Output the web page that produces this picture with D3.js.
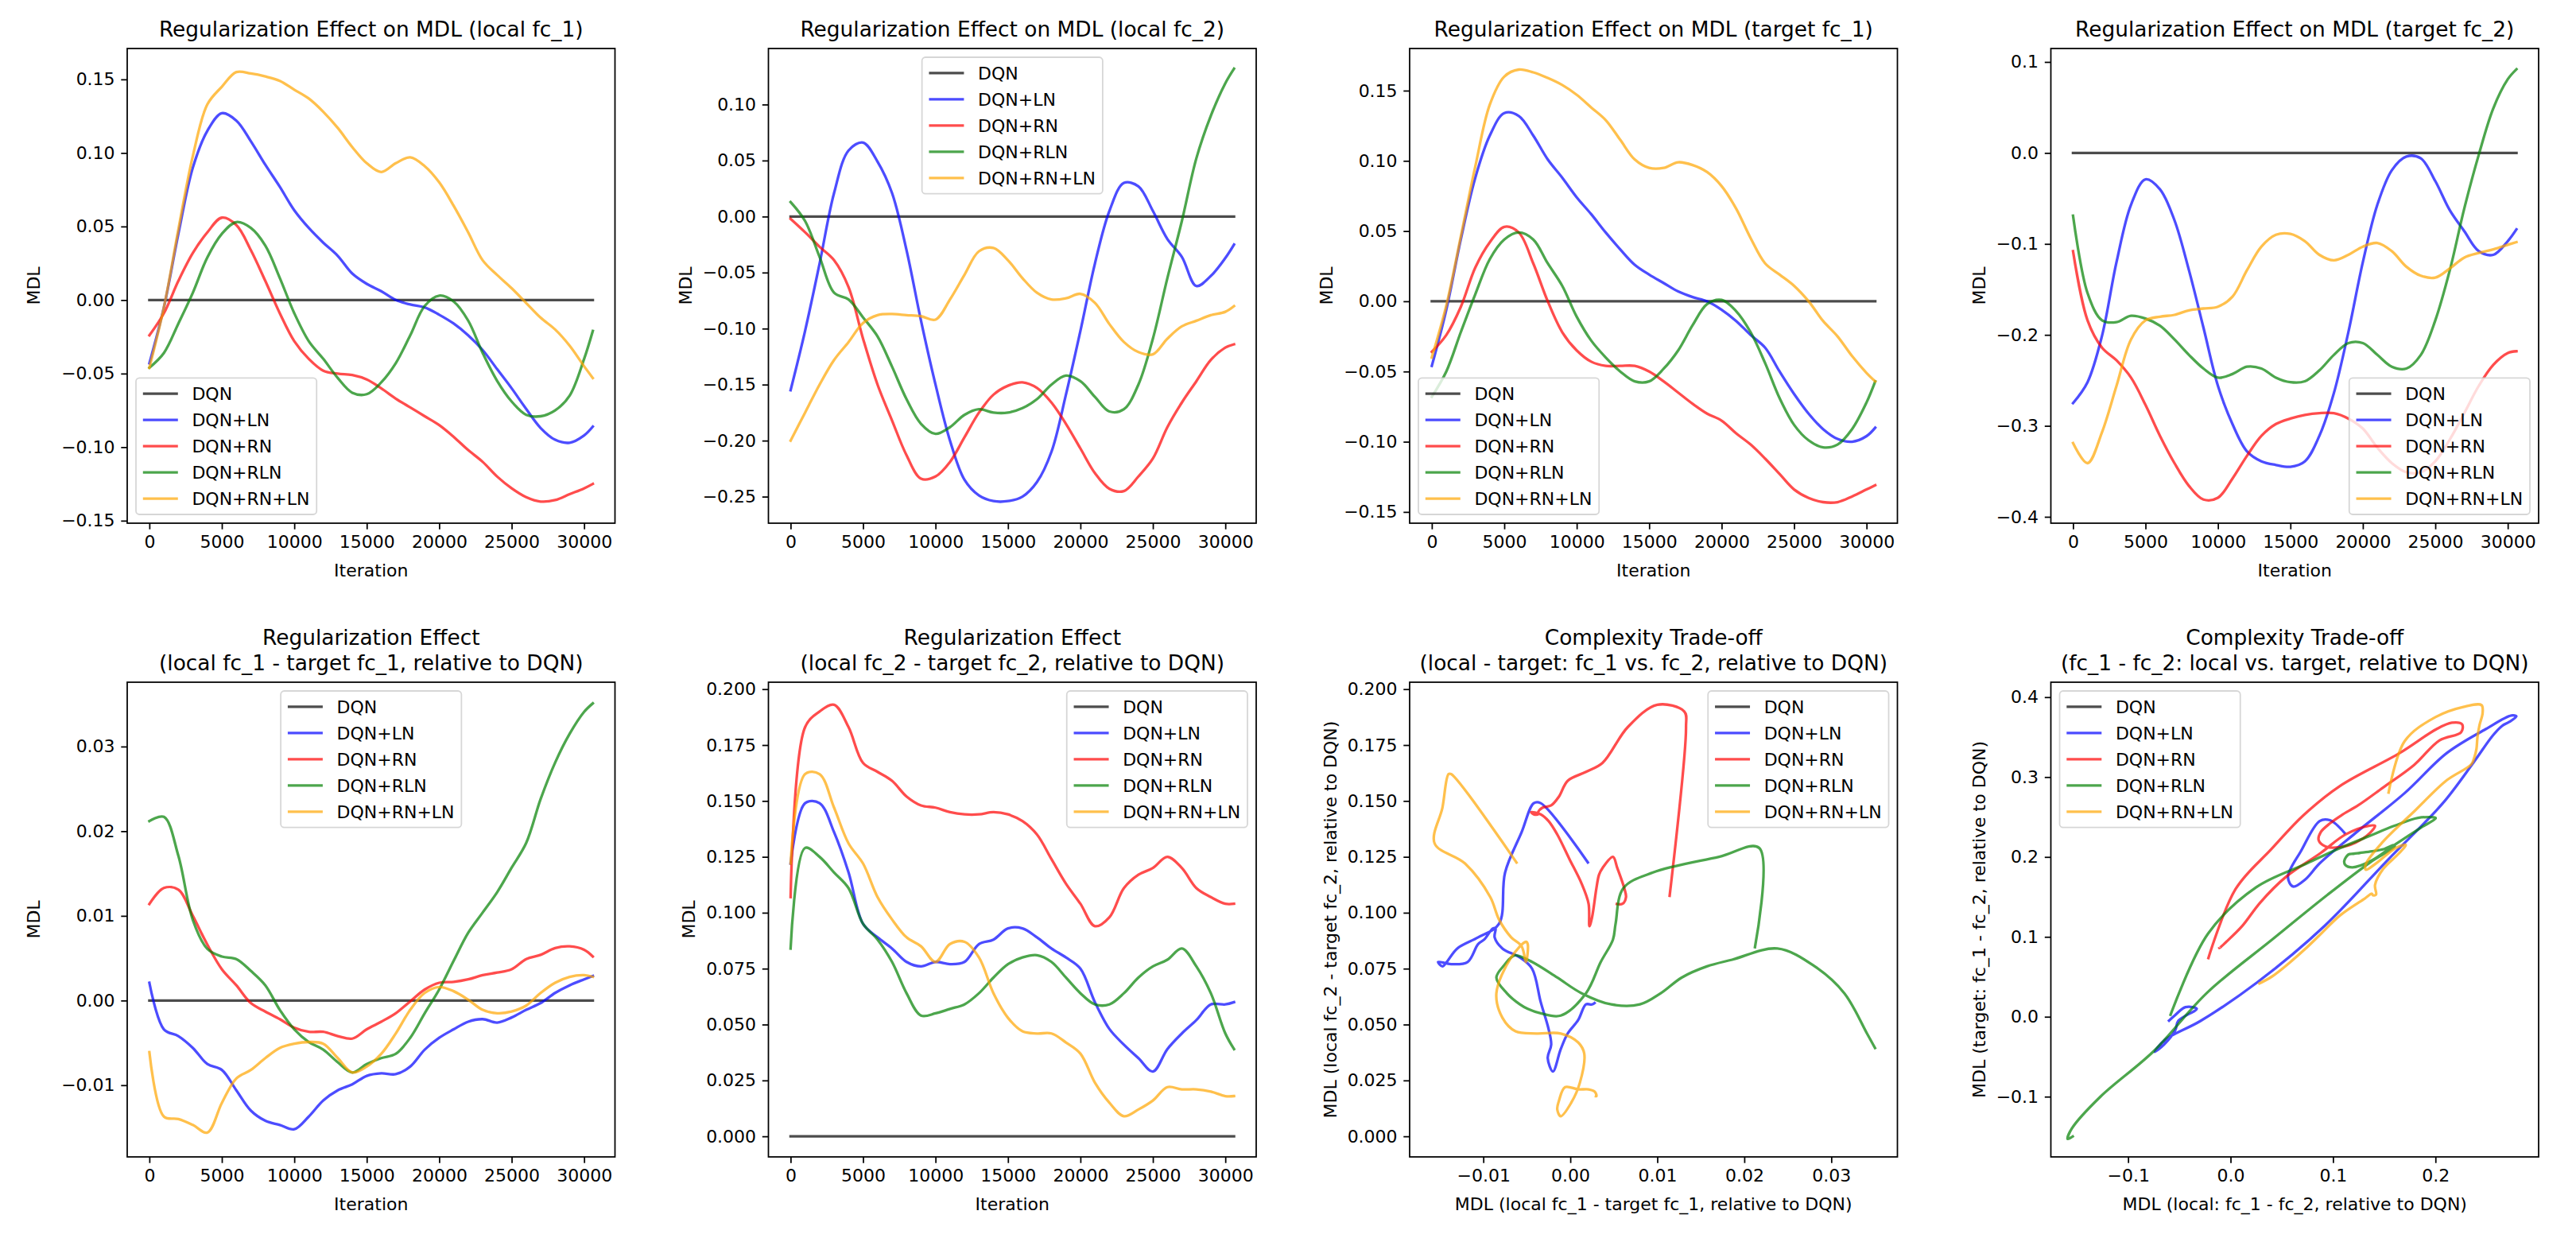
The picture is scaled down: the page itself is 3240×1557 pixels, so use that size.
<!DOCTYPE html>
<html><head><meta charset="utf-8">
<script src="https://cdn.jsdelivr.net/npm/d3@7"></script>
<style>
body{margin:0;background:#fff}
svg text{font-family:"DejaVu Sans",sans-serif;fill:#000}
</style>
</head><body>
<svg id="fig" width="3240" height="1557"></svg>
<script>
// ---------------- DATA ----------------
const iterations = [0,1000,2000,3000,4000,5000,6000,7000,8000,9000,10000,11000,12000,13000,14000,15000,16000,17000,18000,19000,20000,21000,22000,23000,24000,25000,26000,27000,28000,29000,30000,30600];
const seriesNames = ["DQN","DQN+LN","DQN+RN","DQN+RLN","DQN+RN+LN"];
const seriesColors = ["#000000","#0000ff","#ff0000","#008000","#ffa500"];
const dqnBaseline = [0,0,0,0,0,0,0,0,0,0,0,0,0,0,0,0,0,0,0,0,0,0,0,0,0,0,0,0,0,0,0,0];

// local fc_1
const localFc1LN   = [-0.043,-0.005,0.045,0.090,0.115,0.127,0.122,0.108,0.092,0.077,0.061,0.049,0.039,0.030,0.018,0.011,0.006,0.000,-0.003,-0.005,-0.010,-0.016,-0.024,-0.034,-0.047,-0.060,-0.074,-0.087,-0.095,-0.097,-0.092,-0.086];
const localFc1RN   = [-0.024,-0.009,0.013,0.032,0.046,0.056,0.051,0.034,0.013,-0.009,-0.028,-0.040,-0.048,-0.050,-0.051,-0.054,-0.060,-0.067,-0.073,-0.079,-0.085,-0.093,-0.102,-0.110,-0.120,-0.128,-0.134,-0.137,-0.136,-0.132,-0.128,-0.125];
const localFc1RLN  = [-0.046,-0.036,-0.016,0.005,0.029,0.045,0.053,0.049,0.037,0.015,-0.009,-0.028,-0.040,-0.053,-0.063,-0.064,-0.056,-0.043,-0.024,-0.004,0.003,-0.001,-0.014,-0.036,-0.055,-0.069,-0.078,-0.079,-0.075,-0.065,-0.040,-0.021];
const localFc1RNLN = [-0.046,-0.005,0.048,0.098,0.133,0.145,0.155,0.154,0.152,0.149,0.143,0.137,0.128,0.117,0.104,0.093,0.087,0.093,0.097,0.091,0.080,0.064,0.046,0.027,0.017,0.008,-0.002,-0.012,-0.020,-0.031,-0.045,-0.053];

// local fc_2
const localFc2LN   = [-0.155,-0.102,-0.042,0.021,0.059,0.066,0.049,0.021,-0.030,-0.093,-0.150,-0.200,-0.235,-0.249,-0.254,-0.254,-0.250,-0.237,-0.210,-0.159,-0.102,-0.042,0.005,0.030,0.027,0.005,-0.020,-0.036,-0.062,-0.053,-0.037,-0.025];
const localFc2RN   = [-0.002,-0.014,-0.027,-0.039,-0.063,-0.109,-0.150,-0.182,-0.213,-0.234,-0.232,-0.219,-0.197,-0.175,-0.159,-0.151,-0.148,-0.153,-0.166,-0.185,-0.207,-0.229,-0.243,-0.245,-0.232,-0.216,-0.188,-0.166,-0.147,-0.128,-0.117,-0.114];
const localFc2RLN  = [0.013,-0.004,-0.036,-0.068,-0.074,-0.090,-0.107,-0.134,-0.163,-0.185,-0.194,-0.188,-0.177,-0.172,-0.175,-0.175,-0.171,-0.163,-0.150,-0.142,-0.147,-0.161,-0.174,-0.172,-0.150,-0.109,-0.055,-0.004,0.052,0.090,0.119,0.132];
const localFc2RNLN = [-0.200,-0.175,-0.150,-0.128,-0.112,-0.095,-0.088,-0.087,-0.088,-0.089,-0.092,-0.074,-0.052,-0.031,-0.028,-0.039,-0.055,-0.068,-0.074,-0.073,-0.069,-0.077,-0.096,-0.112,-0.121,-0.123,-0.109,-0.098,-0.093,-0.088,-0.085,-0.080];

// target fc_1
const targetFc1LN   = [-0.046,-0.006,0.044,0.088,0.118,0.134,0.132,0.118,0.101,0.088,0.074,0.062,0.049,0.037,0.026,0.019,0.013,0.007,0.003,0.000,-0.006,-0.014,-0.024,-0.033,-0.050,-0.066,-0.080,-0.091,-0.098,-0.100,-0.096,-0.090];
const targetFc1RN   = [-0.036,-0.024,-0.004,0.024,0.042,0.053,0.049,0.027,0.000,-0.022,-0.035,-0.043,-0.046,-0.046,-0.046,-0.050,-0.057,-0.065,-0.073,-0.080,-0.085,-0.094,-0.102,-0.112,-0.123,-0.134,-0.140,-0.143,-0.143,-0.139,-0.134,-0.131];
const targetFc1RLN  = [-0.068,-0.050,-0.022,0.005,0.030,0.044,0.049,0.044,0.027,0.011,-0.011,-0.028,-0.040,-0.050,-0.057,-0.057,-0.048,-0.035,-0.017,-0.002,0.001,-0.007,-0.022,-0.044,-0.069,-0.088,-0.099,-0.104,-0.102,-0.091,-0.072,-0.057];
const targetFc1RNLN = [-0.040,-0.003,0.046,0.096,0.140,0.160,0.165,0.163,0.159,0.154,0.147,0.138,0.129,0.115,0.101,0.095,0.095,0.099,0.097,0.092,0.082,0.066,0.045,0.027,0.019,0.011,0.000,-0.014,-0.025,-0.039,-0.051,-0.057];

// target fc_2
const targetFc2LN   = [-0.275,-0.252,-0.201,-0.120,-0.057,-0.029,-0.040,-0.074,-0.129,-0.192,-0.256,-0.298,-0.328,-0.339,-0.343,-0.345,-0.339,-0.311,-0.264,-0.197,-0.120,-0.057,-0.019,-0.004,-0.006,-0.031,-0.063,-0.086,-0.108,-0.112,-0.097,-0.084];
const targetFc2RN   = [-0.108,-0.184,-0.214,-0.228,-0.247,-0.277,-0.311,-0.341,-0.366,-0.381,-0.379,-0.358,-0.333,-0.311,-0.298,-0.292,-0.288,-0.286,-0.286,-0.292,-0.303,-0.324,-0.341,-0.351,-0.351,-0.339,-0.315,-0.286,-0.256,-0.233,-0.220,-0.218];
const targetFc2RLN  = [-0.069,-0.154,-0.184,-0.186,-0.179,-0.182,-0.190,-0.205,-0.222,-0.237,-0.247,-0.243,-0.235,-0.237,-0.247,-0.252,-0.251,-0.239,-0.222,-0.209,-0.209,-0.222,-0.235,-0.237,-0.222,-0.184,-0.129,-0.061,-0.002,0.049,0.081,0.092];
const targetFc2RNLN = [-0.319,-0.341,-0.307,-0.256,-0.205,-0.184,-0.180,-0.178,-0.173,-0.171,-0.169,-0.158,-0.129,-0.103,-0.090,-0.089,-0.097,-0.112,-0.118,-0.112,-0.103,-0.099,-0.108,-0.125,-0.135,-0.137,-0.127,-0.115,-0.110,-0.106,-0.101,-0.098];

// local fc_1 - target fc_1, relative to DQN
const diffFc1LN   = [0.0021,-0.0034,-0.0042,-0.0056,-0.0075,-0.0082,-0.0106,-0.0130,-0.0142,-0.0147,-0.0152,-0.0137,-0.0118,-0.0106,-0.0099,-0.0089,-0.0086,-0.0087,-0.0078,-0.0058,-0.0044,-0.0034,-0.0025,-0.0022,-0.0026,-0.0020,-0.0011,-0.0003,0.0009,0.0018,0.0025,0.0029];
const diffFc1RN   = [0.0114,0.0133,0.0131,0.0100,0.0066,0.0037,0.0018,-0.0003,-0.0013,-0.0022,-0.0032,-0.0037,-0.0037,-0.0042,-0.0045,-0.0034,-0.0025,-0.0015,-0.0001,0.0013,0.0021,0.0022,0.0025,0.0030,0.0033,0.0037,0.0049,0.0054,0.0062,0.0064,0.0060,0.0052];
const diffFc1RLN  = [0.0212,0.0217,0.0171,0.0095,0.0061,0.0052,0.0049,0.0035,0.0018,-0.0011,-0.0034,-0.0049,-0.0058,-0.0073,-0.0085,-0.0075,-0.0068,-0.0063,-0.0044,-0.0015,0.0013,0.0047,0.0080,0.0104,0.0128,0.0157,0.0186,0.0238,0.0281,0.0315,0.0341,0.0351];
const diffFc1RNLN = [-0.0061,-0.0137,-0.0140,-0.0147,-0.0156,-0.0121,-0.0092,-0.0082,-0.0068,-0.0056,-0.0051,-0.0049,-0.0051,-0.0068,-0.0085,-0.0078,-0.0063,-0.0039,-0.0011,0.0009,0.0016,0.0011,0.0001,-0.0011,-0.0015,-0.0013,-0.0006,0.0009,0.0021,0.0028,0.0030,0.0028];

// local fc_2 - target fc_2, relative to DQN
const diffFc2LN   = [0.122,0.149,0.149,0.136,0.118,0.095,0.089,0.084,0.078,0.076,0.078,0.077,0.078,0.086,0.088,0.093,0.093,0.089,0.084,0.080,0.075,0.060,0.048,0.041,0.035,0.029,0.039,0.046,0.052,0.059,0.059,0.060];
const diffFc2RN   = [0.107,0.183,0.190,0.193,0.183,0.167,0.163,0.159,0.152,0.148,0.147,0.145,0.144,0.144,0.145,0.144,0.141,0.135,0.124,0.113,0.104,0.094,0.098,0.111,0.117,0.120,0.125,0.120,0.111,0.107,0.104,0.104];
const diffFc2RLN  = [0.084,0.129,0.125,0.118,0.111,0.095,0.088,0.078,0.064,0.054,0.055,0.057,0.059,0.064,0.071,0.077,0.080,0.081,0.078,0.071,0.064,0.059,0.059,0.064,0.071,0.076,0.079,0.084,0.076,0.064,0.046,0.039];
const diffFc2RNLN = [0.122,0.162,0.162,0.147,0.131,0.122,0.107,0.097,0.089,0.085,0.078,0.086,0.087,0.080,0.064,0.053,0.047,0.046,0.046,0.042,0.037,0.024,0.015,0.009,0.012,0.016,0.022,0.021,0.021,0.020,0.018,0.018];

// fc_1 - fc_2 (local), relative to DQN
const layerDiffLocalLN   = [0.112,0.097,0.087,0.069,0.056,0.061,0.073,0.087,0.122,0.170,0.211,0.249,0.274,0.279,0.272,0.265,0.256,0.237,0.207,0.154,0.092,0.026,-0.029,-0.064,-0.074,-0.065,-0.054,-0.051,-0.033,-0.044,-0.055,-0.061];
const layerDiffLocalRN   = [-0.022,0.005,0.040,0.071,0.107,0.165,0.201,0.216,0.226,0.225,0.204,0.179,0.149,0.125,0.108,0.097,0.088,0.086,0.093,0.106,0.122,0.136,0.141,0.135,0.112,0.088,0.054,0.029,0.011,-0.004,-0.011,-0.011];
const layerDiffLocalRLN  = [-0.059,-0.022,0.025,0.073,0.103,0.135,0.160,0.183,0.200,0.200,0.185,0.160,0.137,0.119,0.112,0.111,0.115,0.120,0.126,0.138,0.150,0.160,0.160,0.136,0.095,0.040,-0.023,-0.075,-0.127,-0.155,-0.159,-0.153];
const layerDiffLocalRNLN = [0.154,0.170,0.200,0.228,0.245,0.246,0.243,0.241,0.240,0.238,0.235,0.211,0.180,0.148,0.132,0.132,0.142,0.161,0.171,0.164,0.149,0.141,0.142,0.139,0.138,0.131,0.107,0.086,0.073,0.057,0.040,0.027];

// fc_1 - fc_2 (target), relative to DQN
const layerDiffTargetLN   = [0.229,0.246,0.245,0.208,0.175,0.163,0.172,0.192,0.230,0.280,0.330,0.360,0.377,0.376,0.369,0.364,0.352,0.318,0.267,0.197,0.114,0.043,-0.005,-0.029,-0.044,-0.035,-0.017,-0.005,0.010,0.012,0.001,-0.006];
const layerDiffTargetRN   = [0.072,0.160,0.210,0.252,0.289,0.330,0.360,0.368,0.366,0.356,0.346,0.315,0.287,0.265,0.252,0.242,0.231,0.221,0.213,0.212,0.218,0.230,0.239,0.239,0.228,0.205,0.175,0.143,0.113,0.094,0.086,0.087];
const layerDiffTargetRLN  = [0.001,0.104,0.162,0.191,0.209,0.226,0.239,0.249,0.249,0.248,0.236,0.215,0.195,0.187,0.190,0.195,0.203,0.204,0.205,0.207,0.210,0.215,0.213,0.193,0.153,0.096,0.030,-0.043,-0.100,-0.140,-0.153,-0.149];
const layerDiffTargetRNLN = [0.279,0.345,0.375,0.388,0.390,0.380,0.365,0.350,0.335,0.325,0.316,0.296,0.258,0.218,0.191,0.184,0.192,0.211,0.215,0.204,0.185,0.165,0.153,0.152,0.154,0.148,0.127,0.101,0.085,0.067,0.050,0.041];

// tick labels
const iterTicks = [0,5000,10000,15000,20000,25000,30000];
const ticksFc1 = [-0.15,-0.10,-0.05,0,0.05,0.10,0.15];
const ticksLocalFc2 = [-0.25,-0.20,-0.15,-0.10,-0.05,0,0.05,0.10];
const ticksTargetFc2 = [-0.4,-0.3,-0.2,-0.1,0,0.1];
const ticksDiffFc1 = [-0.01,0,0.01,0.02,0.03];
const ticksDiffFc2 = [0,0.025,0.05,0.075,0.1,0.125,0.15,0.175,0.2];
const ticksLayerDiff = [-0.1,0,0.1,0.2];
const ticksLayerDiffY = [-0.1,0,0.1,0.2,0.3,0.4];

// axis ranges (matplotlib 5% margins)
const iterDomain = [-1530, 32130];
const domLocalFc1 = [-0.1517, 0.171];
const domLocalFc2 = [-0.2737, 0.150];
const domTargetFc1 = [-0.158, 0.180];
const domTargetFc2 = [-0.407, 0.1148];
const domDiffFc1 = [-0.01847, 0.0376];
const domDiffFc2 = [-0.0092, 0.2031];
const domLayerDiffX = [-0.1754, 0.3007];
const domLayerDiffY = [-0.1754, 0.4187];

// ---------------- PANELS ----------------
function timeLines(arrs){ return arrs.map(a => ({x: iterations, y: a})); }
function pairLines(xs, ys){ return xs.map((a,i) => ({x: a, y: ys[i]})); }

const panels = [
  {title:["Regularization Effect on MDL (local fc_1)"], lines: timeLines([dqnBaseline,localFc1LN,localFc1RN,localFc1RLN,localFc1RNLN]),
   xDom: iterDomain, xTicks: iterTicks, xFmt:"d", yDom: domLocalFc1, yTicks: ticksFc1, yFmt:".2f", legend:"lower left", xlabel:"Iteration", ylabel:"MDL", ylShift:-13},
  {title:["Regularization Effect on MDL (local fc_2)"], lines: timeLines([dqnBaseline,localFc2LN,localFc2RN,localFc2RLN,localFc2RNLN]),
   xDom: iterDomain, xTicks: iterTicks, xFmt:"d", yDom: domLocalFc2, yTicks: ticksLocalFc2, yFmt:".2f", legend:"upper center", xlabel:null, ylabel:"MDL", ylShift:0},
  {title:["Regularization Effect on MDL (target fc_1)"], lines: timeLines([dqnBaseline,targetFc1LN,targetFc1RN,targetFc1RLN,targetFc1RNLN]),
   xDom: iterDomain, xTicks: iterTicks, xFmt:"d", yDom: domTargetFc1, yTicks: ticksFc1, yFmt:".2f", legend:"lower left", xlabel:"Iteration", ylabel:"MDL", ylShift:0},
  {title:["Regularization Effect on MDL (target fc_2)"], lines: timeLines([dqnBaseline,targetFc2LN,targetFc2RN,targetFc2RLN,targetFc2RNLN]),
   xDom: iterDomain, xTicks: iterTicks, xFmt:"d", yDom: domTargetFc2, yTicks: ticksTargetFc2, yFmt:".1f", legend:"lower right", xlabel:"Iteration", ylabel:"MDL", ylShift:0},
  {title:["Regularization Effect","(local fc_1 - target fc_1, relative to DQN)"], lines: timeLines([dqnBaseline,diffFc1LN,diffFc1RN,diffFc1RLN,diffFc1RNLN]),
   xDom: iterDomain, xTicks: iterTicks, xFmt:"d", yDom: domDiffFc1, yTicks: ticksDiffFc1, yFmt:".2f", legend:"upper center", xlabel:"Iteration", ylabel:"MDL", ylShift:-13},
  {title:["Regularization Effect","(local fc_2 - target fc_2, relative to DQN)"], lines: timeLines([dqnBaseline,diffFc2LN,diffFc2RN,diffFc2RLN,diffFc2RNLN]),
   xDom: iterDomain, xTicks: iterTicks, xFmt:"d", yDom: domDiffFc2, yTicks: ticksDiffFc2, yFmt:".3f", legend:"upper right", xlabel:"Iteration", ylabel:"MDL", ylShift:0},
  {title:["Complexity Trade-off","(local - target: fc_1 vs. fc_2, relative to DQN)"],
   lines: pairLines([dqnBaseline,diffFc1LN,diffFc1RN,diffFc1RLN,diffFc1RNLN],[dqnBaseline,diffFc2LN,diffFc2RN,diffFc2RLN,diffFc2RNLN]), scatter:true,
   xDom: domDiffFc1, xTicks: ticksDiffFc1, xFmt:".2f", yDom: domDiffFc2, yTicks: ticksDiffFc2, yFmt:".3f", legend:"upper right",
   xlabel:"MDL (local fc_1 - target fc_1, relative to DQN)", ylabel:"MDL (local fc_2 - target fc_2, relative to DQN)", ylShift:0},
  {title:["Complexity Trade-off","(fc_1 - fc_2: local vs. target, relative to DQN)"],
   lines: pairLines([dqnBaseline,layerDiffLocalLN,layerDiffLocalRN,layerDiffLocalRLN,layerDiffLocalRNLN],[dqnBaseline,layerDiffTargetLN,layerDiffTargetRN,layerDiffTargetRLN,layerDiffTargetRNLN]), scatter:true,
   xDom: domLayerDiffX, xTicks: ticksLayerDiff, xFmt:".1f", yDom: domLayerDiffY, yTicks: ticksLayerDiffY, yFmt:".1f", legend:"upper left",
   xlabel:"MDL (local: fc_1 - fc_2, relative to DQN)", ylabel:"MDL (target: fc_1 - fc_2, relative to DQN)", ylShift:0}
];

// ---------------- LAYOUT ----------------
const colLeft = [160, 966.5, 1773, 2579.5];
const rowTop = [61, 858];
const axW = 613.5, axH = 597;
const FS = 22, TFS = 26.4, LW = 3.3, SPINE = 1.76, TICK = 7.7, TPAD = 7.7;

const svg = d3.select("#fig");
svg.append("rect").attr("width",3240).attr("height",1557).attr("fill","#fff");

panels.forEach((p, idx) => {
  const row = Math.floor(idx/4), col = idx%4;
  const g = svg.append("g").attr("transform", `translate(${colLeft[col]},${rowTop[row]})`);
  const xs = d3.scaleLinear().domain(p.xDom).range([0, axW]);
  const ys = d3.scaleLinear().domain(p.yDom).range([axH, 0]);

  // lines
  const lineGen = d3.line().x(d => xs(d[0])).y(d => ys(d[1])).curve(d3.curveCatmullRom.alpha(0.5));
  p.lines.forEach((ln, i) => {
    const pts = ln.x.map((xv, j) => [xv, ln.y[j]]);
    g.append("path").attr("d", lineGen(pts))
      .attr("fill","none").attr("stroke", seriesColors[i]).attr("stroke-opacity",0.7)
      .attr("stroke-width", LW).attr("stroke-linejoin","round")
      .attr("stroke-linecap", p.scatter ? "butt" : "square");
  });

  // spines
  g.append("rect").attr("x",0).attr("y",0).attr("width",axW).attr("height",axH)
    .attr("fill","none").attr("stroke","#000").attr("stroke-width",SPINE);

  // axes
  const xa = g.append("g").attr("transform",`translate(0,${axH})`)
    .call(d3.axisBottom(xs).tickValues(p.xTicks).tickFormat(d3.format(p.xFmt)).tickSizeOuter(0).tickSize(TICK).tickPadding(TPAD));
  const ya = g.append("g")
    .call(d3.axisLeft(ys).tickValues(p.yTicks).tickFormat(d3.format(p.yFmt)).tickSizeOuter(0).tickSize(TICK).tickPadding(TPAD));
  [xa, ya].forEach(a => {
    a.select(".domain").remove();
    a.attr("font-family", '"DejaVu Sans", sans-serif').attr("font-size", FS);
    a.selectAll("line").attr("stroke","#000").attr("stroke-width",SPINE);
    a.selectAll("text").attr("fill","#000");
  });

  // title
  const nT = p.title.length;
  p.title.forEach((t, k) => {
    g.append("text").attr("x", axW/2).attr("y", -15 - (nT-1-k)*31.7)
      .attr("text-anchor","middle").attr("font-size", TFS).text(t);
  });

  // x label
  if (p.xlabel) {
    g.append("text").attr("x", axW/2).attr("y", axH + 67)
      .attr("text-anchor","middle").attr("font-size", FS).text(p.xlabel);
  }
  // y label
  const yb = ya.node().getBBox();
  g.append("text").attr("transform", `translate(${yb.x - 14 + p.ylShift},${axH/2}) rotate(-90)`)
    .attr("text-anchor","middle").attr("font-size", FS).text(p.ylabel);

  // legend
  const pad = 0.4*FS, hl = 2*FS, htp = 0.8*FS, rowH = FS, ls = 0.5*FS, bap = 0.5*FS;
  const lg = g.append("g");
  const frame = lg.append("rect");
  const labels = seriesNames.map((name, i) => {
    const cy = pad + rowH/2 + i*(rowH+ls);
    lg.append("line").attr("x1", pad).attr("x2", pad+hl).attr("y1", cy).attr("y2", cy)
      .attr("stroke", seriesColors[i]).attr("stroke-opacity",0.7).attr("stroke-width", LW);
    return lg.append("text").attr("x", pad+hl+htp).attr("y", cy + 8).attr("font-size", FS).text(name);
  });
  const maxW = d3.max(labels, t => t.node().getComputedTextLength());
  const W = pad + hl + htp + maxW + pad;
  const H = 2*pad + 5*rowH + 4*ls;
  frame.attr("width", W).attr("height", H).attr("rx", 0.2*FS).attr("ry", 0.2*FS)
    .attr("fill","#fff").attr("fill-opacity",0.8).attr("stroke","#ccc").attr("stroke-opacity",0.8).attr("stroke-width",SPINE);
  let lx, ly;
  if (p.legend === "lower left") { lx = bap; ly = axH - bap - H; }
  else if (p.legend === "upper center") { lx = axW/2 - W/2; ly = bap; }
  else if (p.legend === "lower right") { lx = axW - bap - W; ly = axH - bap - H; }
  else if (p.legend === "upper right") { lx = axW - bap - W; ly = bap; }
  else { lx = bap; ly = bap; }
  lg.attr("transform", `translate(${lx},${ly})`);
});
</script>
</body></html>
